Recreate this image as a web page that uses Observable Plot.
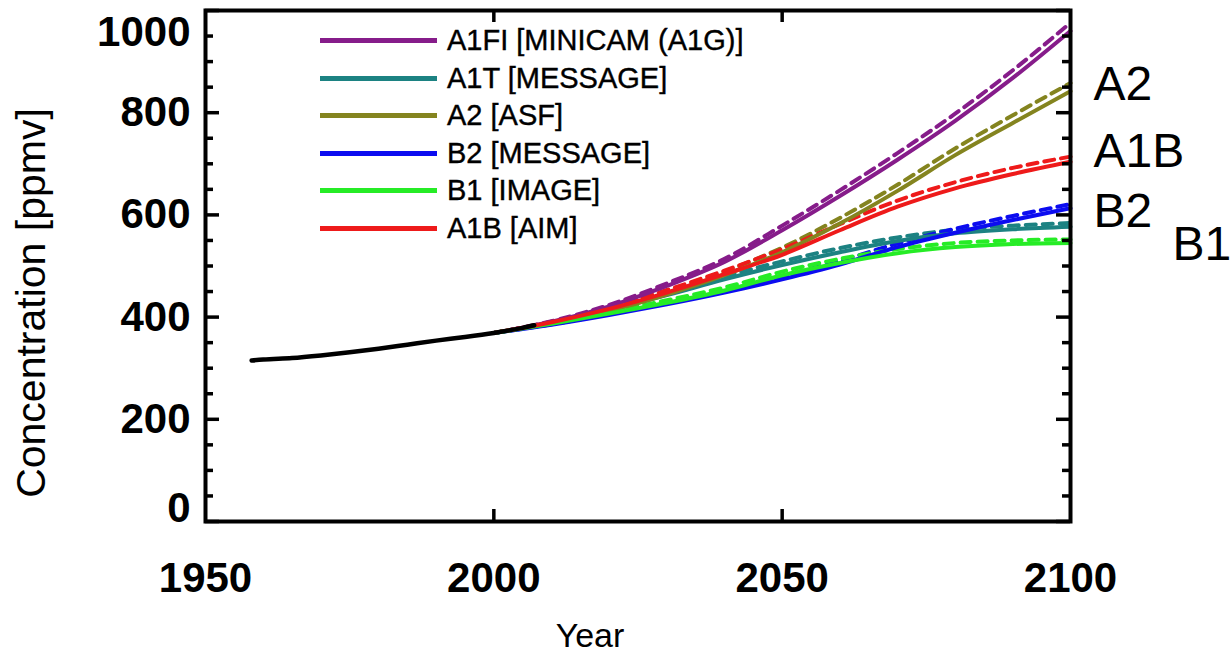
<!DOCTYPE html>
<html><head><meta charset="utf-8">
<script src="https://cdn.jsdelivr.net/npm/d3@7"></script>
<script src="https://cdn.jsdelivr.net/npm/@observablehq/plot@0.6"></script>
<style>
html,body{margin:0;padding:0;background:#fff;}
#wrap{position:relative;width:1231px;height:656px;font-family:"Liberation Sans",Arial,sans-serif;}
#legend{position:absolute;left:320px;top:22px;}
.row{display:flex;align-items:center;height:37.5px;}
.sw{width:117px;height:5px;margin-right:10px;}
.lab{font-size:29px;color:#000;white-space:nowrap;line-height:1;-webkit-text-stroke:0.4px #000;}
</style></head><body><div id="wrap"><div id="chart"></div><div id="legend"></div></div>
<script>
// ---- data ----
const scenarios = ["A1FI", "A1T", "A2", "B2", "B1", "A1B"];
const legendLabels = ["A1FI [MINICAM (A1G)]", "A1T [MESSAGE]", "A2 [ASF]", "B2 [MESSAGE]", "B1 [IMAGE]", "A1B [AIM]"];
const colors = ["#861c8a", "#1c8282", "#84841f", "#0c0cf0", "#26ec26", "#ee1a1a"];

const years = [2000, 2010, 2020, 2030, 2040, 2050, 2060, 2070, 2080, 2090, 2100];

// solid lines (model 1)
const solidA1FI = [369, 391, 421, 461, 508, 570, 637, 708, 784, 868, 960];
const solidA1T  = [369, 389, 414, 443, 474, 502, 527, 549, 564, 572, 577];
const solidA2   = [369, 388, 412, 444, 482, 527, 583, 647, 717, 780, 842];
const solidB2   = [369, 385, 404, 425, 448, 474, 503, 537, 565, 590, 613];
const solidB1   = [369, 387, 407, 428, 452, 482, 506, 525, 537, 543, 545];
const solidA1B  = [369, 390, 416, 448, 484, 522, 570, 616, 652, 680, 704];

// dashed lines (model 2)
const dashA1FI = [369, 392, 424, 466, 514, 579, 648, 721, 798, 883, 976];
const dashA1T  = [369, 390, 417, 448, 480, 509, 535, 556, 571, 579, 584];
const dashA2   = [369, 389, 415, 449, 489, 536, 594, 659, 730, 795, 858];
const dashB2   = [369, 386, 406, 428, 452, 480, 510, 544, 573, 598, 621];
const dashB1   = [369, 388, 410, 433, 458, 489, 514, 533, 545, 550, 552];
const dashA1B  = [369, 391, 419, 453, 491, 533, 582, 628, 664, 692, 714];

// observed history
const histYears  = [1958, 1960, 1965, 1970, 1975, 1980, 1985, 1990, 1995, 2000, 2005, 2007];
const histValues = [315, 317, 320, 325, 331, 338, 346, 354, 361, 369, 379, 384];

// axes
const xDomain = [1950, 2100];
const yDomain = [0, 1000];
const xTicks = [1950, 2000, 2050, 2100];
const xInnerTicks = [2000, 2050];
const yTicks = [200, 400, 600, 800];
const yMajor = [0, 200, 400, 600, 800, 1000];
const yMinor = [50, 100, 150, 250, 300, 350, 450, 500, 550, 650, 700, 750, 850, 900, 950];

// end labels
const endLabels = ["A2", "A1B", "B2", "B1"];
const endYears  = [2104, 2104, 2104, 2117.7];
const endValues = [855, 724, 606, 541];

// ---- build tables ----
const solidSeries = [solidA1FI, solidA1T, solidA2, solidB2, solidB1, solidA1B];
const dashSeries = [dashA1FI, dashA1T, dashA2, dashB2, dashB1, dashA1B];
const solidRows = [], dashRows = [];
scenarios.forEach((s, i) => {
  years.forEach((y, j) => {
    solidRows.push({scenario: s, year: y, value: solidSeries[i][j]});
    dashRows.push({scenario: s, year: y, value: dashSeries[i][j]});
  });
});
const hist = histYears.map((y, i) => ({year: y, value: histValues[i]}));
const ends = endLabels.map((l, i) => ({label: l, year: endYears[i], value: endValues[i]}));

const W = 1231, H = 656, mL = 205, mR = 161, mT = 10, mB = 135;
const innerW = W - mL - mR, innerH = H - mT - mB;
const font = "Liberation Sans, Arial, Helvetica, sans-serif";
const tk = {stroke: "black", strokeWidth: 3.5};

const chart = Plot.plot({
  width: W, height: H,
  marginLeft: mL, marginRight: mR, marginTop: mT, marginBottom: mB,
  style: {fontFamily: font, background: "white", overflow: "visible"},
  x: {domain: xDomain, axis: null},
  y: {domain: yDomain, axis: null},
  color: {domain: scenarios, range: colors},
  marks: [
    Plot.line(dashRows, {x: "year", y: "value", z: "scenario", stroke: "scenario", strokeWidth: 4, strokeDasharray: "10,7", curve: "monotone-x"}),
    Plot.line(solidRows, {x: "year", y: "value", z: "scenario", stroke: "scenario", strokeWidth: 4, curve: "monotone-x"}),
    Plot.line(hist, {x: "year", y: "value", stroke: "black", strokeWidth: 4.5, curve: "monotone-x"}),
    // inward ticks on all four sides
    Plot.tickY(yMajor, {...tk, y: d => d, insetRight: innerW - 14}),
    Plot.tickY(yMinor, {...tk, y: d => d, insetRight: innerW - 8}),
    Plot.tickY(yMajor, {...tk, y: d => d, insetLeft: innerW - 14}),
    Plot.tickY(yMinor, {...tk, y: d => d, insetLeft: innerW - 8}),
    Plot.tickX(xInnerTicks, {...tk, x: d => d, insetTop: innerH - 12}),
    Plot.tickX(xInnerTicks, {...tk, x: d => d, insetBottom: innerH - 12}),
    Plot.frame({stroke: "black", strokeWidth: 4}),
    // tick labels
    Plot.text(xTicks, {x: d => d, text: d => `${d}`, frameAnchor: "bottom", lineAnchor: "middle", dy: 57, fontSize: 42, fontWeight: "bold", fill: "black"}),
    Plot.text(yTicks, {y: d => d, text: d => `${d}`, frameAnchor: "left", textAnchor: "end", dx: -15, fontSize: 42, fontWeight: "bold", fill: "black"}),
    Plot.text([0], {y: d => d, text: d => `${d}`, frameAnchor: "left", textAnchor: "end", dx: -15, dy: -13, fontSize: 42, fontWeight: "bold", fill: "black"}),
    Plot.text([1000], {y: d => d, text: d => `${d}`, frameAnchor: "left", textAnchor: "end", dx: -15, dy: 22, fontSize: 42, fontWeight: "bold", fill: "black"}),
    // axis titles
    Plot.text(["Year"], {frameAnchor: "bottom", lineAnchor: "middle", textAnchor: "middle", dx: -48, dy: 115, fontSize: 34, fill: "black"}),
    Plot.text(["Concentration [ppmv]"], {frameAnchor: "left", rotate: -90, textAnchor: "middle", lineAnchor: "middle", dx: -174, dy: 37, fontSize: 41, fill: "black"}),
    // end labels
    Plot.text(ends, {x: "year", y: "value", text: "label", textAnchor: "start", lineAnchor: "middle", fontSize: 48, fill: "black"})
  ]
});
document.getElementById("chart").appendChild(chart);

const legend = document.getElementById("legend");
scenarios.forEach((s, i) => {
  const row = document.createElement("div");
  row.className = "row";
  const sw = document.createElement("div");
  sw.className = "sw";
  sw.style.background = colors[i];
  const lab = document.createElement("span");
  lab.className = "lab";
  lab.textContent = legendLabels[i];
  row.appendChild(sw); row.appendChild(lab);
  legend.appendChild(row);
});
</script></body></html>
